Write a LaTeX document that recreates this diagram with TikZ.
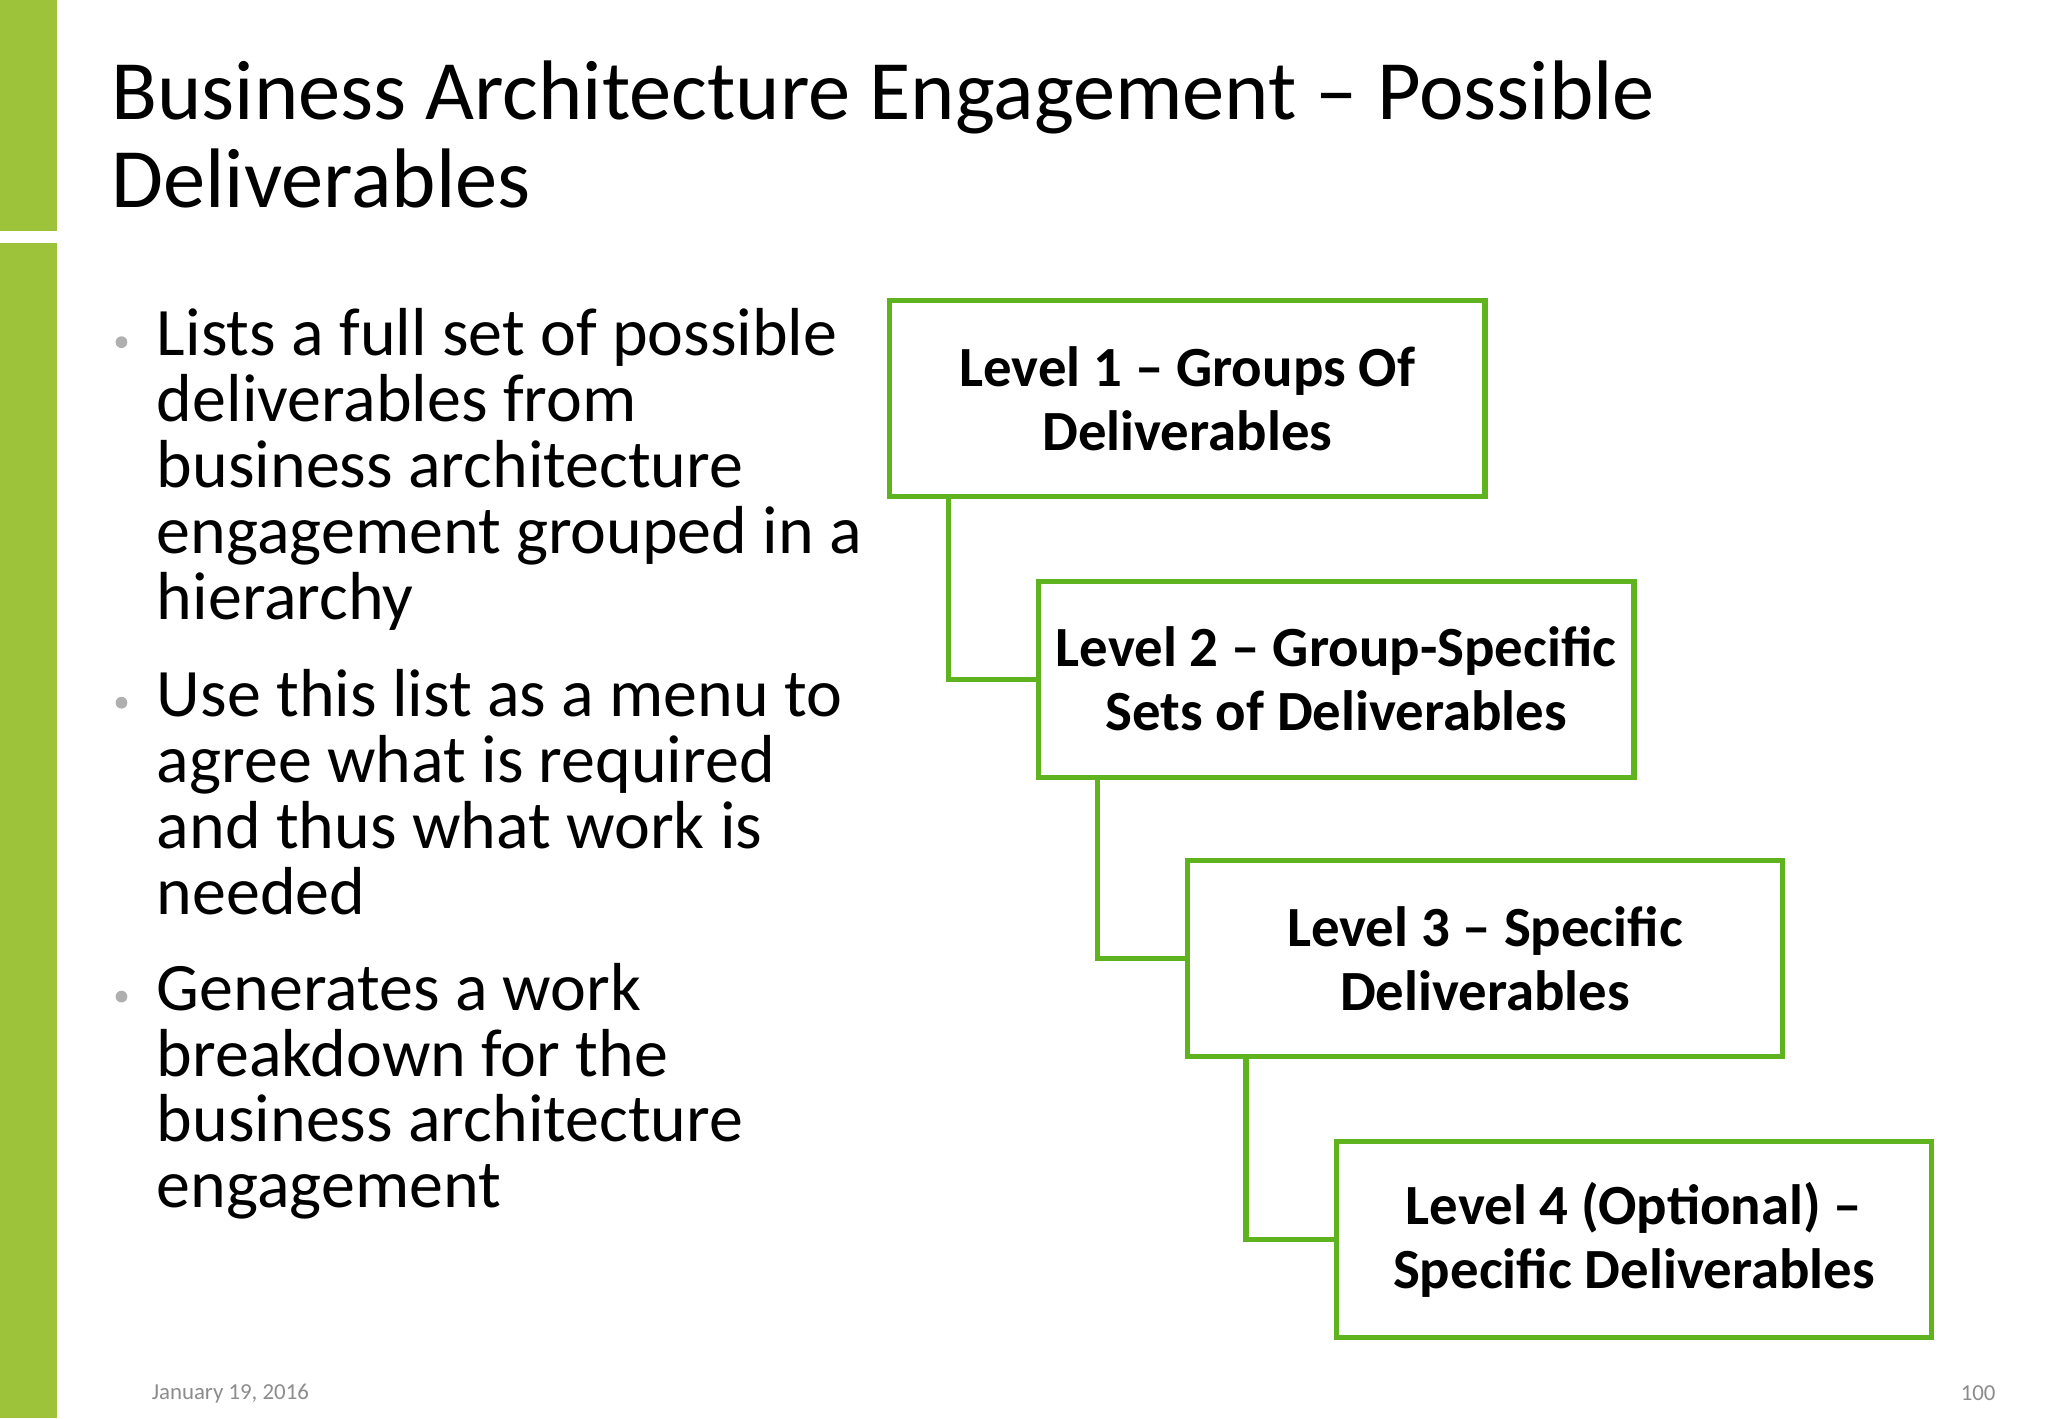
\documentclass[tikz,border=0pt]{standalone}
\usepackage{fontspec}
\setmainfont{Carlito}
\definecolor{bar}{HTML}{9DC33A}
\definecolor{bx}{HTML}{5EB31E}
\definecolor{gr}{HTML}{8C8C8C}
\begin{document}
\begin{tikzpicture}[x=1pt,y=-1pt,
  lvl/.style={draw=bx,line width=4pt,minimum width=456pt,minimum height=150pt,align=center,font=\fontsize{43.5}{49}\selectfont\bfseries,inner sep=0pt},
  conn/.style={draw=bx,line width=4pt},
  bul/.style={anchor=north west,align=left,font=\fontsize{52}{50.5}\selectfont,inner sep=0pt},
  dot/.style={circle,fill=gr!70,minimum size=9pt,inner sep=0pt}]
\useasboundingbox (0,0) rectangle (1568,1086);
\fill[bar] (0,0) rectangle (44,177);
\fill[bar] (0,186) rectangle (44,1086);
\node[anchor=north west,align=left,font=\fontsize{64.7}{68}\selectfont,inner sep=0pt] (title) at (85,46) {Business Architecture Engagement -- Possible\\Deliverables};
\node[bul] (b1) at (120,236) {Lists a full set of possible\\deliverables from\\business architecture\\engagement grouped in a\\hierarchy};
\node[bul] (b2) at (120,512) {Use this list as a menu to\\agree what is required\\and thus what work is\\needed};
\node[bul] (b3) at (120,737) {Generates a work\\breakdown for the\\business architecture\\engagement};
\node[dot] (d1) at (93,262) {};
\node[dot] (d2) at (93,538) {};
\node[dot] (d3) at (93,763) {};
\node[lvl] (l1) at (909,305) {Level 1 -- Groups Of\\Deliverables};
\node[lvl] (l2) at (1023,520) {Level 2 -- Group-Specific\\Sets of Deliverables};
\node[lvl] (l3) at (1137,734) {Level 3 -- Specific\\Deliverables};
\node[lvl] (l4) at (1251,949) {Level 4 (Optional) --\\Specific Deliverables};
\draw[conn] (l1.south -| 726,0) |- (l2.west);
\draw[conn] (l2.south -| 840,0) |- (l3.west);
\draw[conn] (l3.south -| 954,0) |- (l4.west);
\node[anchor=west,text=gr,font=\fontsize{17.5}{18}\selectfont,inner sep=0pt] (date) at (116,1067) {January 19, 2016};
\node[anchor=east,text=gr,font=\fontsize{17.5}{18}\selectfont,inner sep=0pt] (pg) at (1528,1067) {100};
\end{tikzpicture}
\end{document}
